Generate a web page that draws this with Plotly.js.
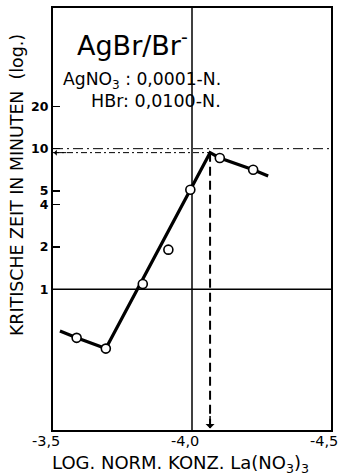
<!DOCTYPE html>
<html><head><meta charset="utf-8">
<script src="https://cdn.plot.ly/plotly-3.0.1.min.js"></script>
<style>html,body{margin:0;padding:0;background:#fff}#c{width:341px;height:475px}</style>
</head><body><div id="c"></div>
<script>
// Measured points (log. norm. konz. La(NO3)3 vs. kritische Zeit in Minuten)
const measX = [-3.585, -3.69, -3.823, -3.915, -3.994, -4.10, -4.22];
const measY = [0.452, 0.379, 1.09, 1.915, 5.11, 8.59, 7.09];
// Drawn curve
const curveX = [-3.525, -3.585, -3.69, -4.065, -4.10, -4.22, -4.274];
const curveY = [0.506, 0.452, 0.379, 9.37, 8.59, 7.09, 6.4];
// Peak
const peakX = -4.065, peakY = 9.37;
// Axis ticks
const xTickVals = [-3.5, -4.0, -4.5];
const xTickText = ['-3,5', '-4,0', '-4,5'];
const yTickVals = [1, 2, 4, 5, 10, 20];
const yTickText = ['1', '2', '4', '5', '10', '20'];
const xRange = [-3.5, -4.5];
const yRange = [0.1, 100];

const F = 'DejaVu Sans, Liberation Sans, sans-serif';
const traces = [
  // reference lines
  {x: xRange, y: [10, 10], mode: 'lines', line: {color: '#000', width: 1, dash: '10px,4px,2px,4px'}, hoverinfo: 'skip'},
  {x: xRange, y: [1, 1], mode: 'lines', line: {color: '#000', width: 1.5}, hoverinfo: 'skip'},
  {x: [-4.0, -4.0], y: yRange, mode: 'lines', line: {color: '#000', width: 1.5}, hoverinfo: 'skip'},
  {x: [xRange[0], peakX], y: [peakY, peakY], mode: 'lines', line: {color: '#000', width: 1, dash: '6px,3px,2px,3px'}, hoverinfo: 'skip'},
  {x: [peakX, peakX], y: [peakY, yRange[0]], mode: 'lines', line: {color: '#000', width: 2, dash: '9px,5px'}, hoverinfo: 'skip'},
  // curve
  {x: curveX, y: curveY, mode: 'lines', line: {color: '#000', width: 3.2}, hoverinfo: 'skip'},
  // points
  {x: measX, y: measY, mode: 'markers', marker: {size: 9, color: '#fff', line: {color: '#000', width: 1.6}}, cliponaxis: false}
];

const xTickAnn = xTickVals.map((v, i) => ({
  xref: 'x', yref: 'paper', x: v, y: 0, yanchor: 'top', xanchor: 'center', xshift: -7, yshift: -1,
  text: xTickText[i], showarrow: false, font: {size: 14.5, family: F}
}));

const layout = {
  width: 341, height: 475,
  margin: {l: 53, r: 10, t: 8, b: 45, pad: 0},
  paper_bgcolor: '#fff', plot_bgcolor: '#fff',
  showlegend: false,
  font: {family: F, color: '#000'},
  xaxis: {
    range: xRange, tickvals: xTickVals, showticklabels: false,
    showgrid: false, zeroline: false, showline: true, linecolor: '#000', linewidth: 2, mirror: true,
    ticks: ''
  },
  yaxis: {
    type: 'log', range: [Math.log10(yRange[0]), Math.log10(yRange[1])],
    tickvals: yTickVals, ticktext: yTickText,
    showgrid: false, zeroline: false, showline: true, linecolor: '#000', linewidth: 2, mirror: true,
    ticks: 'inside', ticklen: 7, tickwidth: 1.5, tickcolor: '#000',
    tickfont: {size: 12.5, family: F, weight: 'bold'}
  },
  annotations: xTickAnn.concat([
    {xref: 'paper', yref: 'paper', x: 0.46, y: -0.081, text: 'LOG. NORM. KONZ. La(NO<sub>3</sub>)<sub>3</sub>',
     showarrow: false, xanchor: 'center', yanchor: 'middle', font: {size: 18, family: F}},
    {xref: 'paper', yref: 'paper', x: -0.13, y: 0.58, text: 'KRITISCHE ZEIT IN MINUTEN  (log.)', textangle: -90,
     showarrow: false, font: {size: 17.4, family: F}, xanchor: 'center', yanchor: 'middle'},
    {xref: 'paper', yref: 'paper', x: 0.079, y: 0.917, text: 'AgBr/Br<sup>-</sup>', showarrow: false,
     xanchor: 'left', yanchor: 'middle', font: {size: 27, family: F}},
    {xref: 'paper', yref: 'paper', x: 0.61, y: 0.829, text: 'AgNO<sub>3</sub> : 0,0001-N.', showarrow: false,
     xanchor: 'right', yanchor: 'middle', font: {size: 17.2, family: F}},
    {xref: 'paper', yref: 'paper', x: 0.61, y: 0.78, text: 'HBr: 0,0100-N.', showarrow: false,
     xanchor: 'right', yanchor: 'middle', font: {size: 17.5, family: F}},
    {xref: 'x', yref: 'y', x: -3.503, y: Math.log10(peakY), ax: 14, ay: 0, text: '', showarrow: true,
     arrowhead: 1, arrowsize: 1, arrowwidth: 1, arrowcolor: '#000'},
    {xref: 'x', yref: 'y', x: peakX, y: Math.log10(yRange[0]) + 0.01, ax: 0, ay: -14, text: '', showarrow: true,
     arrowhead: 1, arrowsize: 1, arrowwidth: 1.5, arrowcolor: '#000'}
  ])
};
Plotly.newPlot('c', traces, layout, {staticPlot: true, displayModeBar: false});
</script></body></html>
